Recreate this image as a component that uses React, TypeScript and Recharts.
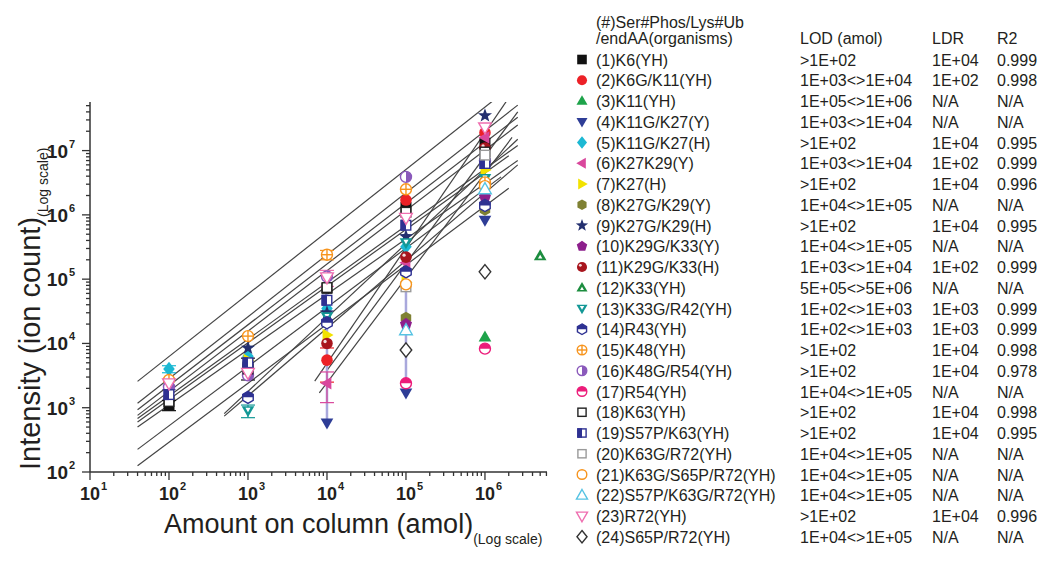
import React from 'react';
import { ScatterChart, Scatter, XAxis, YAxis, ErrorBar, ReferenceLine } from 'recharts';

const FONT = '"Liberation Sans", Arial, Helvetica, sans-serif';
const INK = '#231f20';

// amount on column (amol)
const amounts = [1e2, 1e3, 1e4, 1e5, 1e6, 5e6];

const labels = [
  '(1)K6(YH)', '(2)K6G/K11(YH)', '(3)K11(YH)', '(4)K11G/K27(Y)', '(5)K11G/K27(H)', '(6)K27K29(Y)',
  '(7)K27(H)', '(8)K27G/K29(Y)', '(9)K27G/K29(H)', '(10)K29G/K33(Y)', '(11)K29G/K33(H)', '(12)K33(YH)',
  '(13)K33G/R42(YH)', '(14)R43(YH)', '(15)K48(YH)', '(16)K48G/R54(YH)', '(17)R54(YH)', '(18)K63(YH)',
  '(19)S57P/K63(YH)', '(20)K63G/R72(YH)', '(21)K63G/S65P/R72(YH)', '(22)S57P/K63G/R72(YH)', '(23)R72(YH)', '(24)S65P/R72(YH)',
];
const lod = [
  '>1E+02', '1E+03<>1E+04', '1E+05<>1E+06', '1E+03<>1E+04', '>1E+02', '1E+03<>1E+04',
  '>1E+02', '1E+04<>1E+05', '>1E+02', '1E+04<>1E+05', '1E+03<>1E+04', '5E+05<>5E+06',
  '1E+02<>1E+03', '1E+02<>1E+03', '>1E+02', '>1E+02', '1E+04<>1E+05', '>1E+02',
  '>1E+02', '1E+04<>1E+05', '1E+04<>1E+05', '1E+04<>1E+05', '>1E+02', '1E+04<>1E+05',
];
const ldr = [
  '1E+04', '1E+02', 'N/A', 'N/A', '1E+04', '1E+02', '1E+04', 'N/A', '1E+04', 'N/A', '1E+02', 'N/A',
  '1E+03', '1E+03', '1E+04', '1E+04', 'N/A', '1E+04', '1E+04', 'N/A', 'N/A', 'N/A', '1E+04', 'N/A',
];
const r2 = [
  '0.999', '0.998', 'N/A', 'N/A', '0.995', '0.999', '0.996', 'N/A', '0.995', 'N/A', '0.999', 'N/A',
  '0.999', '0.999', '0.998', '0.978', 'N/A', '0.998', '0.995', 'N/A', 'N/A', 'N/A', '0.996', 'N/A',
];
const kinds = [
  'square', 'circle', 'triangle', 'triangleDown', 'diamond', 'triangleLeft',
  'triangleRight', 'hexagon', 'star', 'pentagon', 'ball', 'triangleInner',
  'triangleDownInner', 'hexHalf', 'circleCross', 'circleHalf', 'circleHalfTop', 'squareOpen',
  'squareHalf', 'squareOpen', 'circleOpen', 'triangleOpen', 'triangleDownOpen', 'diamondOpen',
];
const colors = [
  '#111111', '#ec2127', '#1ea34a', '#2e3d96', '#1cb8d3', '#d9479c',
  '#f2e200', '#7f8133', '#24306f', '#8d1f8c', '#a8151d', '#1c8d3f',
  '#139896', '#2e3192', '#f7941d', '#8a59bb', '#ec1c7a', '#222222',
  '#2e3192', '#9a9a9a', '#f7941d', '#56c3e3', '#ef6fb0', '#333333',
];

// intensity per series, columns follow `amounts`
const intensity: (number | null)[][] = [
  [1100, 4300, 72000, 1.3e6, 1.3e7, null],
  [null, null, 5500, 1.7e6, 1.9e7, null],
  [null, null, null, null, 12600, null],
  [null, null, 580, 1700, 8.3e5, null],
  [4000, 6300, 35000, 3.2e5, 2.2e6, null],
  [null, null, 2400, 1.8e5, 1.6e7, null],
  [1400, 5500, 13500, 89000, 5.0e6, null],
  [null, null, null, 25000, 1.2e6, null],
  [1800, 8500, 30000, 4.6e5, 3.5e7, null],
  [null, null, null, 20000, 1.9e6, null],
  [null, null, 10000, 2.2e5, 1.1e7, null],
  [null, null, null, null, null, 2.3e5],
  [null, 900, 26000, 3.7e5, 3.7e6, null],
  [null, 1450, 21000, 1.3e5, 1.4e6, null],
  [2700, 13000, 2.4e5, 2.5e6, 3.2e6, null],
  [2100, 3200, 1.1e5, 3.9e6, 7.0e6, null],
  [null, null, null, 2400, 8300, null],
  [1250, 4000, 74000, 1.1e6, 9.5e6, null],
  [1600, 5000, 47000, 6.9e5, 6.3e6, null],
  [null, null, null, 76000, 8.5e6, null],
  [null, null, null, 83000, 2.8e6, null],
  [null, null, null, 16000, 2.5e6, null],
  [2400, 3500, 1.07e5, 9.0e5, 2.3e7, null],
  [null, null, null, 7900, 1.3e5, null],
];

// [series #, amount index, minus, plus]
const errorBars: [number, number, number, number][] = [
  [1, 0, 200, 200], [1, 1, 1600, 1600], [5, 0, 500, 500], [13, 1, 200, 200],
  [2, 2, 3000, 3000], [6, 2, 1200, 1200], [4, 2, 0, 97000], [4, 3, 0, 81000],
  [15, 2, 40000, 40000], [23, 2, 30000, 30000],
];

// regression lines [x1, y1, x2, y2]
const fitLines = [
  [40, 2570, 2.6e6, 1.2e8],
  [40, 1170, 2.6e6, 5.1e7],
  [40, 930, 2.6e6, 3.3e7],
  [40, 760, 2.6e6, 2.5e7],
  [40, 680, 2.6e6, 1.2e7],
  [40, 600, 2.0e6, 8.3e6],
  [40, 500, 2.6e6, 7.0e6],
  [40, 225, 1.6e6, 3.9e6],
  [40, 125, 2.0e6, 2.6e6],
  [500, 810, 2.6e6, 1.5e7],
  [500, 740, 2.6e6, 6.0e6],
  [7000, 2600, 1.86e6, 5.8e7],
  [10000, 3800, 2.6e6, 4.0e7],
  [8000, 1700, 2.2e6, 1.6e7],
];

const xDecades = [1, 2, 3, 4, 5, 6];
const yDecades = [2, 3, 4, 5, 6, 7];
const mult = [1, 2, 3, 4, 5, 6, 7, 8, 9];
const X_MAX = 6.1e6;
const Y_MAX = 5.7e7;
const xTicks = xDecades.flatMap((d) => mult.map((m) => m * Math.pow(10, d))).filter((v) => v <= X_MAX);
const yTicks = yDecades.flatMap((d) => mult.map((m) => m * Math.pow(10, d))).filter((v) => v <= Y_MAX);

const isMajor = (v: number) => Math.abs(Math.log10(v) - Math.round(Math.log10(v))) < 1e-9;

const XTick = (p: any) => {
  const v = p.payload.value;
  const major = isMajor(v);
  const e = Math.round(Math.log10(v));
  return (
    <g>
      <line x1={p.x} x2={p.x} y1={p.y} y2={p.y + (major ? 8 : 4)} stroke="#333" strokeWidth={1.3} />
      {major && (
        <>
          <text x={p.x} y={p.y + 28} textAnchor="middle" fontSize={18} fontWeight="bold" fill={INK} fontFamily={FONT}>10</text>
          <text x={p.x + 11} y={p.y + 18} fontSize={11} fontWeight="bold" fill={INK} fontFamily={FONT}>{e}</text>
        </>
      )}
    </g>
  );
};

const YTick = (p: any) => {
  const v = p.payload.value;
  const major = isMajor(v);
  const e = Math.round(Math.log10(v));
  return (
    <g>
      <line x1={p.x} x2={p.x - (major ? 8 : 4)} y1={p.y} y2={p.y} stroke="#333" strokeWidth={1.3} />
      {major && (
        <>
          <text x={p.x - 22} y={p.y + 7} textAnchor="end" fontSize={19} fontWeight="bold" fill={INK} fontFamily={FONT}>10</text>
          <text x={p.x - 21} y={p.y - 3} fontSize={11} fontWeight="bold" fill={INK} fontFamily={FONT}>{e}</text>
        </>
      )}
    </g>
  );
};

const Marker = ({ cx, cy, kind, color, r = 5.5 }: any) => {
  if (cx == null || cy == null) return null;
  const sw = 1.4;
  const pts = (a: number[][]) => a.map((q) => `${cx + q[0]},${cy + q[1]}`).join(' ');
  const tri = [[0, -r * 1.2], [r * 1.15, r * 0.8], [-r * 1.15, r * 0.8]];
  const triD = tri.map(([x, y]) => [x, -y]);
  const triL = [[-r * 1.2, 0], [r * 0.8, -r * 1.15], [r * 0.8, r * 1.15]];
  const triR = triL.map(([x, y]) => [-x, y]);
  const dia = [[0, -r * 1.3], [r * 1.05, 0], [0, r * 1.3], [-r * 1.05, 0]];
  const hex = [0, 1, 2, 3, 4, 5].map((k) => {
    const a = -Math.PI / 2 + (k * Math.PI) / 3;
    return [r * 1.1 * Math.cos(a), r * 1.1 * Math.sin(a)];
  });
  const pent = [0, 1, 2, 3, 4].map((k) => {
    const a = -Math.PI / 2 + (k * 2 * Math.PI) / 5;
    return [r * 1.15 * Math.cos(a), r * 1.15 * Math.sin(a)];
  });
  const star = [0, 1, 2, 3, 4, 5, 6, 7, 8, 9].map((k) => {
    const a = -Math.PI / 2 + (k * Math.PI) / 5;
    const rr = k % 2 === 0 ? r * 1.35 : r * 0.55;
    return [rr * Math.cos(a), rr * Math.sin(a)];
  });
  const c = Math.cos(Math.PI / 6) * r * 1.1;
  switch (kind) {
    case 'square':
      return <rect x={cx - r} y={cy - r} width={2 * r} height={2 * r} fill={color} />;
    case 'circle':
      return <circle cx={cx} cy={cy} r={r * 1.05} fill={color} />;
    case 'triangle':
      return <polygon points={pts(tri)} fill={color} />;
    case 'triangleDown':
      return <polygon points={pts(triD)} fill={color} />;
    case 'diamond':
      return <polygon points={pts(dia)} fill={color} />;
    case 'triangleLeft':
      return <polygon points={pts(triL)} fill={color} />;
    case 'triangleRight':
      return <polygon points={pts(triR)} fill={color} />;
    case 'hexagon':
      return <polygon points={pts(hex)} fill={color} />;
    case 'star':
      return <polygon points={pts(star)} fill={color} />;
    case 'pentagon':
      return <polygon points={pts(pent)} fill={color} />;
    case 'ball':
      return (
        <g>
          <circle cx={cx} cy={cy} r={r * 1.05} fill={color} />
          <circle cx={cx - r * 0.35} cy={cy - r * 0.35} r={r * 0.3} fill="#fff" opacity={0.85} />
        </g>
      );
    case 'triangleInner':
      return (
        <g>
          <polygon points={pts(tri)} fill={color} />
          <polygon points={pts(tri.map(([x, y]) => [x * 0.35, y * 0.35 + r * 0.2]))} fill="#fff" />
        </g>
      );
    case 'triangleDownInner':
      return (
        <g>
          <polygon points={pts(triD)} fill={color} />
          <polygon points={pts(triD.map(([x, y]) => [x * 0.4, y * 0.4 - r * 0.2]))} fill="#fff" />
        </g>
      );
    case 'hexHalf':
      return (
        <g>
          <polygon points={pts(hex)} fill="#fff" stroke={color} strokeWidth={sw} />
          <polygon points={pts([[-c, 0], [-c, -r * 0.55], [0, -r * 1.1], [c, -r * 0.55], [c, 0]])} fill={color} />
        </g>
      );
    case 'circleCross':
      return (
        <g>
          <circle cx={cx} cy={cy} r={r} fill="#fff" stroke={color} strokeWidth={sw} />
          <line x1={cx - r} x2={cx + r} y1={cy} y2={cy} stroke={color} strokeWidth={sw} />
          <line x1={cx} x2={cx} y1={cy - r} y2={cy + r} stroke={color} strokeWidth={sw} />
        </g>
      );
    case 'circleHalf':
      return (
        <g>
          <circle cx={cx} cy={cy} r={r} fill="#fff" stroke={color} strokeWidth={sw} />
          <path d={`M${cx},${cy - r} A${r},${r} 0 0 1 ${cx},${cy + r} Z`} fill={color} />
        </g>
      );
    case 'circleHalfTop':
      return (
        <g>
          <circle cx={cx} cy={cy} r={r} fill="#fff" stroke={color} strokeWidth={sw} />
          <path d={`M${cx - r},${cy} A${r},${r} 0 0 1 ${cx + r},${cy} Z`} fill={color} />
        </g>
      );
    case 'squareOpen':
      return <rect x={cx - r + 0.7} y={cy - r + 0.7} width={2 * r - 1.4} height={2 * r - 1.4} fill="#fff" stroke={color} strokeWidth={sw} />;
    case 'squareHalf':
      return (
        <g>
          <rect x={cx - r + 0.7} y={cy - r + 0.7} width={2 * r - 1.4} height={2 * r - 1.4} fill="#fff" stroke={color} strokeWidth={sw} />
          <rect x={cx - r} y={cy - r} width={r} height={2 * r} fill={color} />
        </g>
      );
    case 'circleOpen':
      return <circle cx={cx} cy={cy} r={r} fill="#fff" stroke={color} strokeWidth={sw} />;
    case 'triangleOpen':
      return <polygon points={pts(tri)} fill="#fff" stroke={color} strokeWidth={sw} />;
    case 'triangleDownOpen':
      return <polygon points={pts(triD)} fill="#fff" stroke={color} strokeWidth={sw} />;
    case 'diamondOpen':
      return <polygon points={pts(dia)} fill="#fff" stroke={color} strokeWidth={sw} />;
    default:
      return null;
  }
};

const seriesData = intensity.map((row, si) =>
  amounts
    .map((x, j) => {
      const eb = errorBars.find((e) => e[0] === si + 1 && e[1] === j);
      return { x, y: row[j], err: eb ? [eb[2], eb[3]] : undefined };
    })
    .filter((d) => d.y != null),
);

const ROW0 = 59.5;
const ROWH = 20.75;

const Overlay = () => (
  <svg width={1050} height={565} style={{ position: 'absolute', left: 0, top: 0, pointerEvents: 'none' }}>
    <g fontFamily={FONT} fill={INK}>
      <text transform="translate(40,470) rotate(-90)" fontSize={29}>
        Intensity (ion count)
        <tspan fontSize={14} dy={8}>(Log scale)</tspan>
      </text>
      <text x={164} y={533} fontSize={27}>
        Amount on column (amol)
        <tspan fontSize={14} dy={11}>(Log scale)</tspan>
      </text>
      <g fontSize={16}>
        <text x={596} y={28}>(#)Ser#Phos/Lys#Ub</text>
        <text x={596} y={44}>/endAA(organisms)</text>
        <text x={800} y={44}>LOD (amol)</text>
        <text x={932} y={44}>LDR</text>
        <text x={997} y={44}>R2</text>
        {labels.map((lab, i) => {
          const cy = ROW0 + ROWH * i;
          return (
            <g key={lab}>
              <Marker cx={582} cy={cy} kind={kinds[i]} color={colors[i]} r={4.8} />
              <text x={596} y={cy + 6}>{lab}</text>
              <text x={800} y={cy + 6}>{lod[i]}</text>
              <text x={932} y={cy + 6}>{ldr[i]}</text>
              <text x={997} y={cy + 6}>{r2[i]}</text>
            </g>
          );
        })}
      </g>
    </g>
  </svg>
);

export default function App() {
  return (
    <div style={{ position: 'absolute', left: 0, top: 0, width: 1050, height: 565, background: '#fff' }}>
      <ScatterChart width={560} height={565} margin={{ top: 102, right: 13, bottom: 53, left: 30 }}>
        <XAxis
          type="number"
          dataKey="x"
          scale="log"
          domain={[10, X_MAX]}
          ticks={xTicks}
          interval={0}
          tickSize={0}
          tickMargin={0}
          tickLine={false}
          tick={(p: any) => <XTick {...p} />}
          axisLine={{ stroke: '#333', strokeWidth: 1.5 }}
          height={40}
          allowDataOverflow
        />
        <YAxis
          type="number"
          dataKey="y"
          scale="log"
          domain={[100, Y_MAX]}
          ticks={yTicks}
          interval={0}
          tickSize={0}
          tickMargin={0}
          tickLine={false}
          tick={(p: any) => <YTick {...p} />}
          axisLine={{ stroke: '#333', strokeWidth: 1.5 }}
          width={60}
          allowDataOverflow
        />
        {fitLines.map((l, i) => (
          <ReferenceLine
            key={'fit' + i}
            segment={[{ x: l[0], y: l[1] }, { x: l[2], y: l[3] }]}
            stroke="#444"
            strokeWidth={1.2}
            ifOverflow="hidden"
          />
        ))}
        {seriesData.map((data, i) => (
          <Scatter
            key={labels[i]}
            name={labels[i]}
            data={data}
            isAnimationActive={false}
            shape={(p: any) => <Marker cx={p.cx} cy={p.cy} kind={kinds[i]} color={colors[i]} />}
          >
            {data.some((d) => d.err) && (
              <ErrorBar
                dataKey="err"
                direction="y"
                width={i === 3 ? 0 : 7}
                stroke={i === 3 ? '#a9a8dc' : colors[i]}
                strokeWidth={i === 3 ? 2.5 : 1.2}
                isAnimationActive={false}
              />
            )}
          </Scatter>
        ))}
      </ScatterChart>
      <Overlay />
    </div>
  );
}
